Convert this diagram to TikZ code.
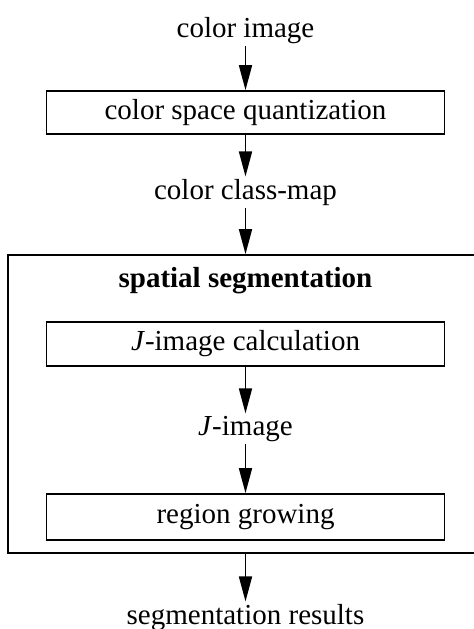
\documentclass[tikz,border=0pt]{standalone}
\usepackage{fontspec}
\setmainfont{Liberation Serif}
\usetikzlibrary{arrows.meta}
\tikzstyle{process} = [rectangle, minimum width=199pt, minimum height=22pt, text centered, inner sep=0pt, draw=black, line width=0.85pt]
\tikzstyle{group} = [rectangle, minimum width=237.5pt, minimum height=149pt, inner sep=0pt, draw=black, line width=0.85pt]
\tikzstyle{data} = [anchor=base, inner sep=1pt]
\tikzstyle{arrow} = [line width=0.85pt, -{Triangle[length=12.5pt, width=6.5pt]}]

\begin{document}
\begin{tikzpicture}[x=0.5pt, y=-0.5pt, font=\fontsize{14.5}{17}\selectfont]
			\useasboundingbox (0,0) rectangle (474,629);
			\node(img)[data] at (245.5,37) {color image};
			\node(quant)[process, minimum height=21.5pt] at (245.5,112.5) {color space quantization};
			\node(classmap)[data] at (245.5,199) {color class-map};
			\node(spatial)[group] at (245.5,404) {};
			\node(title)[data] at (245.5,287) {\bfseries spatial segmentation};
			\node(jcalc)[process] at (245.5,344) {\textit{J}-image calculation};
			\node(jimg)[data] at (245.5,435) {\textit{J}-image};
			\node(grow)[process, minimum height=23pt] at (245.5,517) {region growing};
			\node(results)[data] at (245.5,624) {segmentation results};
			\draw [arrow] (img) -- (quant);
			\draw [arrow] (quant) -- (classmap);
			\draw [arrow] (classmap) -- (spatial);
			\draw [arrow] (jcalc) -- (jimg);
			\draw [arrow] (jimg) -- (grow);
			\draw [arrow] (spatial) -- (results);
		\end{tikzpicture}
\end{document}
